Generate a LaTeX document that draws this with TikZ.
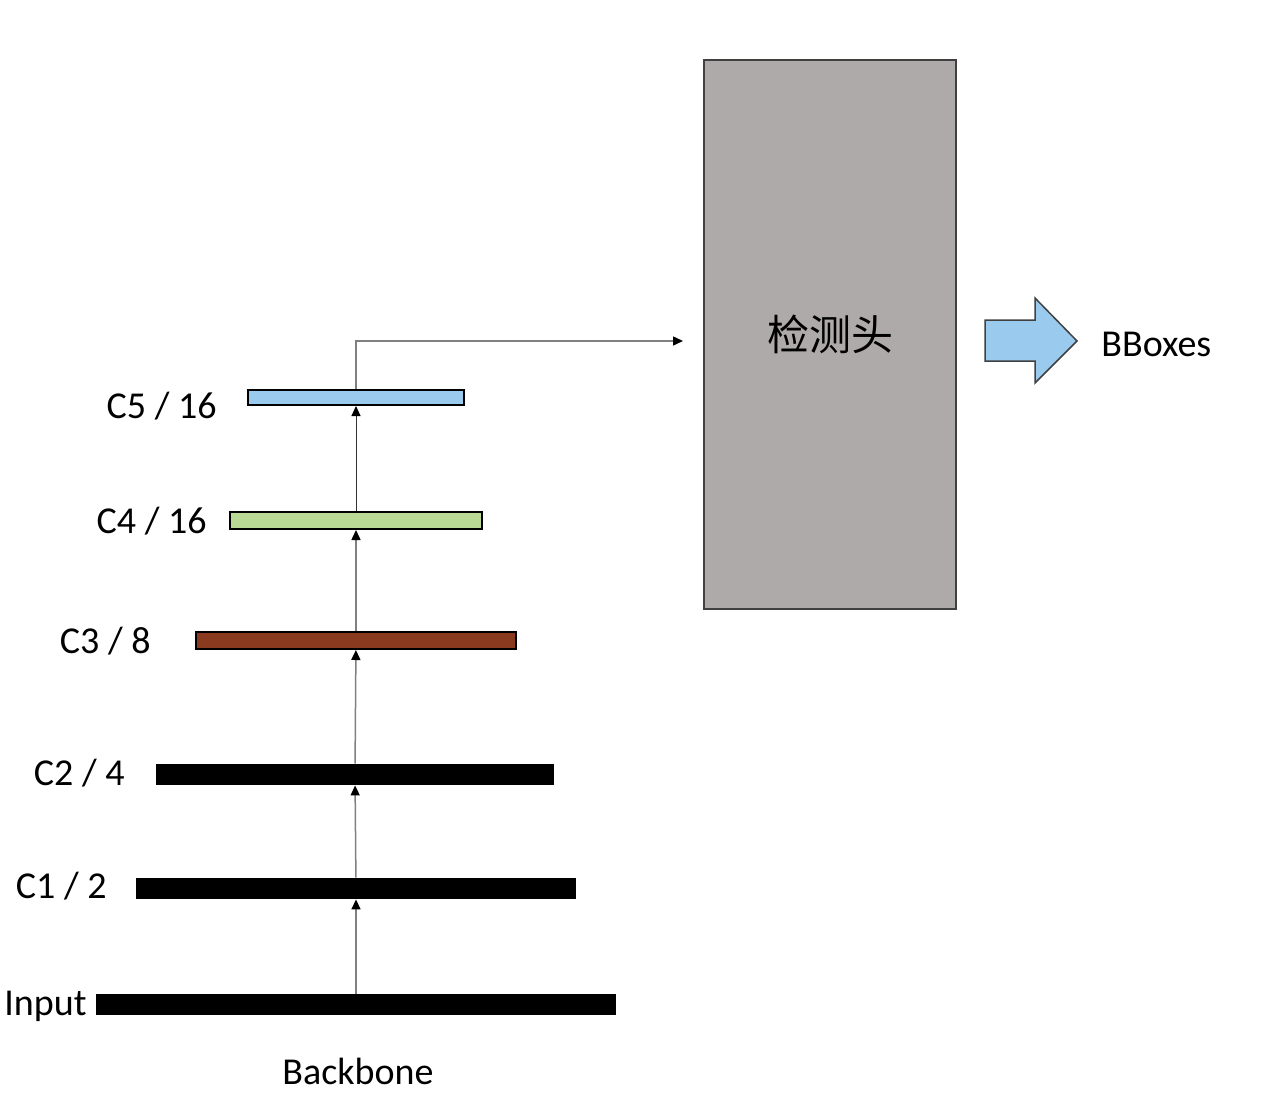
\documentclass[tikz,border=0pt]{standalone}
\usepackage{fontspec}
\setmainfont{Carlito}
\newfontfamily\cjkfont{Noto Sans CJK SC}
\usetikzlibrary{arrows.meta,positioning}
\definecolor{cfiveblue}{HTML}{9ACBEE}
\definecolor{cfourgreen}{HTML}{B9D994}
\definecolor{cthreebrown}{HTML}{8A3A1E}
\definecolor{headgray}{HTML}{ADAAA9}
\definecolor{edgegray}{HTML}{404040}
\definecolor{linkgray}{HTML}{808080}

\begin{document}
\begin{tikzpicture}[x=0.5pt, y=-0.5pt, font=\fontsize{19}{23}\selectfont,
  >={Triangle[length=5pt, width=4.5pt, color=black]},
  bar/.style={rectangle, inner sep=0pt, draw=black, line width=1pt},
  solidbar/.style={rectangle, inner sep=0pt, fill=black},
  link/.style={->, draw=linkgray, line width=0.75pt},
  lab/.style={anchor=base east, inner sep=0pt}]
  \useasboundingbox (0,0) rectangle (1276,1108);
  % backbone stages
  \node[solidbar, minimum width=260pt, minimum height=10.5pt] (input) at (356,1004.5) {};
  \node[solidbar, minimum width=220pt, minimum height=10.5pt] (c1) at (356,888.5) {};
  \node[solidbar, minimum width=199pt, minimum height=10.5pt] (c2) at (355,774.5) {};
  \node[bar, fill=cthreebrown, minimum width=160pt, minimum height=8.5pt] (c3) at (356,640.5) {};
  \node[bar, fill=cfourgreen, minimum width=126pt, minimum height=8.5pt] (c4) at (356,520.5) {};
  \node[bar, fill=cfiveblue, minimum width=108pt, minimum height=7.5pt] (c5) at (356,397.5) {};
  % stage labels
  \node[lab] (linput) at (87,1015) {Input};
  \node[lab] (lc1) at (107,898) {C1 / 2};
  \node[lab] (lc2) at (125,785) {C2 / 4};
  \node[lab] (lc3) at (151,653) {C3 / 8};
  \node[lab] (lc4) at (207,533) {C4 / 16};
  \node[lab] (lc5) at (217,418) {C5 / 16};
  \node (backbone) at (358,1071) {Backbone};
  % upward links
  \draw[link] (input) -- (c1);
  \draw[link] (c1) -- (c2);
  \draw[link] (c2) -- (c3);
  \draw[link] (c3) -- (c4);
  \draw[link, draw=black!80, line width=0.5pt] (c4) -- (c5);
  % detection head
  \node[draw=edgegray, line width=1pt, fill=headgray, minimum width=126pt,
        minimum height=274.5pt, inner sep=0pt] (head) at (830,334.5)
        {\cjkfont\fontsize{21}{25}\selectfont 检测头};
  \coordinate (headin) at (683,341);
  \draw[link] (c5.north) |- (headin);
  % output arrow
  \draw[fill=cfiveblue, draw=edgegray, line width=0.75pt]
    (985,320) -- (1035,320) -- (1035,298) -- (1077,341) -- (1035,383)
    -- (1035,361) -- (985,361) -- cycle;
  \coordinate (tip) at (1077,344);
  \node[right=12pt of tip, inner sep=0pt] (bboxes) {BBoxes};
\end{tikzpicture}
\end{document}
